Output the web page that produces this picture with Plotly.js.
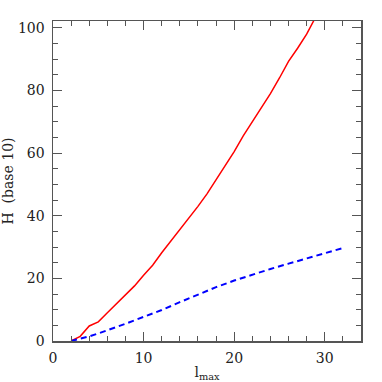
<!DOCTYPE html>
<html>
<head>
<meta charset="utf-8">
<script src="https://cdn.plot.ly/plotly-3.0.1.min.js"></script>
<style>
  html, body { margin: 0; padding: 0; background: #fff; }
  #plot { width: 382px; height: 382px; }
</style>
</head>
<body>
<div id="plot"></div>
<script>
// values
const lRed = [2, 3, 4, 5, 6, 7, 8, 9, 10, 11, 12, 13, 14, 15, 16, 17, 18, 19, 20, 21, 22, 23, 24, 25, 26, 27, 28, 29];
const hRed = [0, 1.5, 4.8, 6.1, 9, 11.8, 14.5, 17.6, 21, 24.2, 28.2, 31.9, 35.5, 39.3, 43, 47, 51.5, 56, 60.5, 65.5, 70, 74.5, 79, 84, 89.3, 93.5, 98, 103.5];

const lBlue = [2, 3, 4, 5, 6, 8, 10, 12, 14, 16, 18, 20, 22, 24, 26, 28, 30, 32];
const hBlue = [0, 0.7, 1.5, 2.4, 3.4, 5.5, 7.7, 9.9, 12.4, 14.9, 17.2, 19.3, 21.2, 23.0, 24.7, 26.4, 28.1, 29.7];

const xTicks = [0, 10, 20, 30];
const yTicks = [0, 20, 40, 60, 80, 100];

const axisCol = "#555";
const font = { family: "DejaVu Serif", size: 14, color: "#222" };

const red = {
  x: lRed, y: hRed, type: "scatter", mode: "lines",
  line: { color: "#ff0000", width: 1.5 },
};
const blue = {
  x: lBlue, y: hBlue, type: "scatter", mode: "lines",
  line: { color: "#0000ff", width: 2, dash: "6px,4px" },
};

const axisBase = {
  showgrid: false, zeroline: false,
  showline: true, linecolor: axisCol, linewidth: 1.5, mirror: "allticks",
  ticks: "inside", ticklen: 9, tickwidth: 1, tickcolor: axisCol,
  tickfont: font, ticklabelstandoff: 4,
};

const layout = {
  width: 382, height: 382,
  margin: { l: 53, r: 21, t: 21, b: 41 },
  showlegend: false,
  font: font,
  plot_bgcolor: "#fff", paper_bgcolor: "#fff",
  xaxis: Object.assign({}, axisBase, {
    range: [0, 34],
    tickvals: xTicks,
    minor: { dtick: 2, ticks: "inside", ticklen: 5, tickcolor: axisCol, showgrid: false },
    title: { text: "l<sub>max</sub>", font: font, standoff: 4 },
  }),
  yaxis: Object.assign({}, axisBase, {
    range: [0, 102.2],
    tickvals: yTicks,
    minor: { dtick: 5, ticks: "inside", ticklen: 5, tickcolor: axisCol, showgrid: false },
    title: { text: "H  (base 10)", font: font, standoff: 6 },
  }),
};

Plotly.newPlot("plot", [red, blue], layout, { displayModeBar: false, staticPlot: true });
</script>
</body>
</html>
